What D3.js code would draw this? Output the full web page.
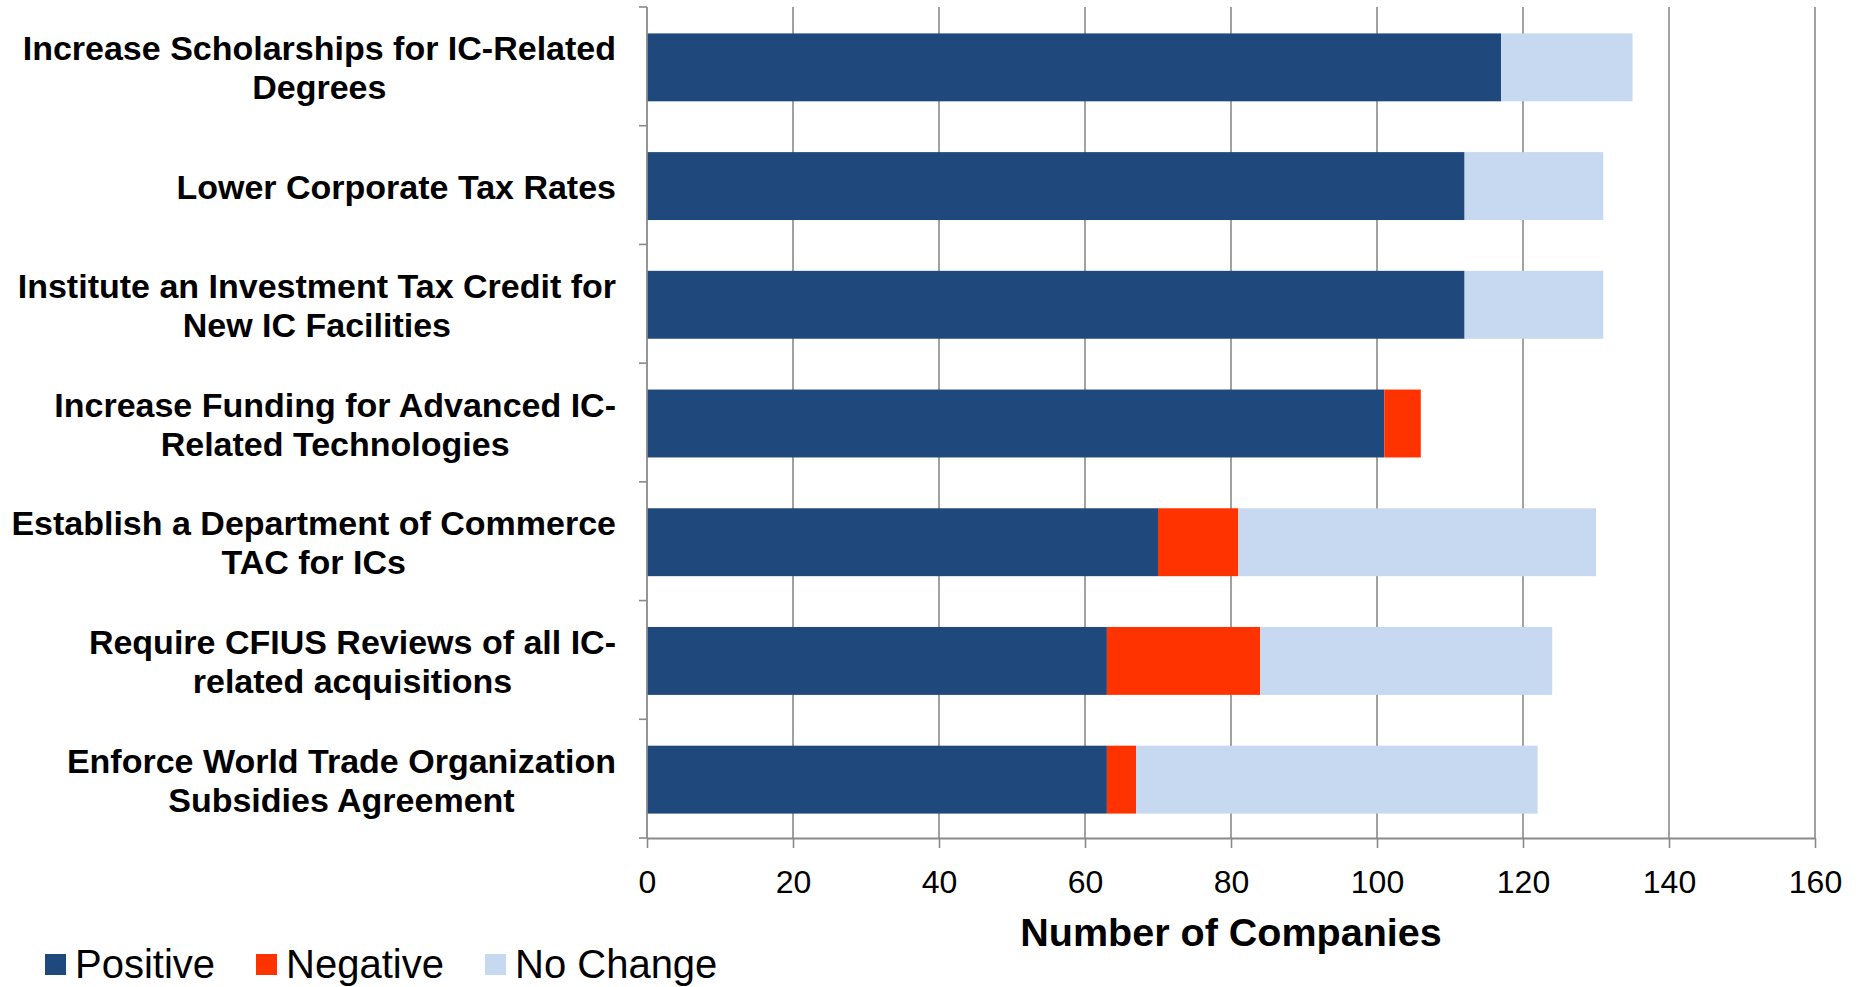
<!DOCTYPE html>
<html>
<head>
<meta charset="utf-8">
<script src="https://cdn.jsdelivr.net/npm/d3@7"></script>
<style>
  html, body { margin: 0; padding: 0; background: #ffffff; }
  svg { display: block; }
  text { font-family: "Liberation Sans", Arial, Helvetica, sans-serif; fill: #000; }
</style>
</head>
<body>
<svg id="chart" width="1862" height="987"></svg>
<script>
// ---- data ----
const categories = [
  ["Increase Scholarships for IC-Related", "Degrees"],
  ["Lower Corporate Tax Rates"],
  ["Institute an Investment Tax Credit for", "New IC Facilities"],
  ["Increase Funding for Advanced IC-", "Related Technologies"],
  ["Establish a Department of Commerce", "TAC for ICs"],
  ["Require CFIUS Reviews of all IC-", "related acquisitions"],
  ["Enforce World Trade Organization", "Subsidies Agreement"]
];
const seriesNames = ["Positive", "Negative", "No Change"];
const positive = [117, 112, 112, 101, 70, 63, 63];
const negative = [0, 0, 0, 5, 11, 21, 4];
const noChange = [18, 19, 19, 0, 49, 40, 55];
const xTicks = [0, 20, 40, 60, 80, 100, 120, 140, 160];
const xTitle = "Number of Companies";
const colors = ["#1F497D", "#FF3300", "#C6D9F0"];

// ---- layout ----
const svg = d3.select("#chart");
const plot = { left: 647, right: 1815, top: 7, bottom: 838 };
const labelRight = 616;

const x = d3.scaleLinear().domain([0, 160]).range([plot.left, plot.right]);
const keys = categories.map((c, i) => "c" + i);
const y = d3.scaleBand().domain(keys).range([plot.top, plot.bottom]).padding(0);
const barH = y.bandwidth() * 0.572;

const rows = keys.map((k, i) => ({ key: k, Positive: positive[i], Negative: negative[i], "No Change": noChange[i] }));
const stacked = d3.stack().keys(seriesNames)(rows);

// gridlines
svg.append("g").selectAll("line")
  .data(xTicks.filter(d => d > 0))
  .join("line")
  .attr("x1", d => x(d)).attr("x2", d => x(d))
  .attr("y1", plot.top).attr("y2", plot.bottom)
  .attr("stroke", "#8a8a8a").attr("stroke-width", 1.6);

// bars
svg.append("g").selectAll("g")
  .data(stacked)
  .join("g")
  .attr("fill", (d, i) => colors[i])
  .selectAll("rect")
  .data(d => d.filter(s => s[1] - s[0] > 0))
  .join("rect")
  .attr("x", d => x(d[0]))
  .attr("width", d => x(d[1]) - x(d[0]))
  .attr("y", d => y(d.data.key) + (y.bandwidth() - barH) / 2 + 1)
  .attr("height", barH);

// x axis
const xAxis = svg.append("g")
  .attr("transform", `translate(0,${plot.bottom})`)
  .call(d3.axisBottom(x).tickValues(xTicks).tickSize(10).tickSizeOuter(0));
xAxis.select(".domain").attr("stroke", "#8a8a8a").attr("stroke-width", 1.8);
xAxis.selectAll(".tick line").attr("stroke", "#8a8a8a").attr("stroke-width", 1.6);
xAxis.selectAll(".tick text")
  .attr("y", 55).attr("dy", 0)
  .attr("font-size", 32)
  .style("font-family", "'Liberation Sans', Arial, sans-serif")
  .attr("fill", "#000");

// y axis line + ticks at band boundaries
const yEdges = keys.map(k => y(k)).concat([plot.bottom]);
svg.append("line")
  .attr("x1", plot.left).attr("x2", plot.left)
  .attr("y1", plot.top).attr("y2", plot.bottom)
  .attr("stroke", "#8a8a8a").attr("stroke-width", 1.8);
svg.append("g").selectAll("line")
  .data(yEdges)
  .join("line")
  .attr("x1", plot.left - 8).attr("x2", plot.left)
  .attr("y1", d => d).attr("y2", d => d)
  .attr("stroke", "#8a8a8a").attr("stroke-width", 1.6);

// category labels: block right-aligned, lines centered within block
const lineGap = 39;
const labelG = svg.append("g");
categories.forEach((lines, i) => {
  const c = y(keys[i]) + y.bandwidth() / 2;
  const g = labelG.append("g");
  const texts = lines.map((ln, j) => g.append("text")
    .attr("font-size", 34)
    .attr("font-weight", "bold")
    .attr("text-anchor", "middle")
    .attr("y", c + 13.5 + (j - (lines.length - 1) / 2) * lineGap)
    .text(ln));
  const w = d3.max(texts, t => t.node().getComputedTextLength());
  texts.forEach(t => t.attr("x", labelRight - w / 2));
});

// x axis title
svg.append("text")
  .attr("x", (plot.left + plot.right) / 2)
  .attr("y", 946)
  .attr("text-anchor", "middle")
  .attr("font-size", 39.5)
  .attr("font-weight", "bold")
  .text(xTitle);

// legend
const legendX = [45, 256, 485];
const legend = svg.append("g");
seriesNames.forEach((name, i) => {
  legend.append("rect")
    .attr("x", legendX[i]).attr("y", 954)
    .attr("width", 21).attr("height", 21)
    .attr("fill", colors[i]);
  legend.append("text")
    .attr("x", legendX[i] + 30).attr("y", 978)
    .attr("font-size", 40)
    .text(name);
});
</script>
</body>
</html>
